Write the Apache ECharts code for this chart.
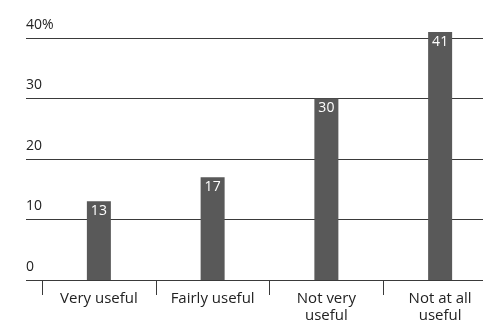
<!DOCTYPE html>
<html>
<head>
<meta charset="utf-8">
<script src="https://cdn.jsdelivr.net/npm/echarts@6/dist/echarts.min.js"></script>
<style>
  html, body { margin: 0; padding: 0; background: #fff; }
  #chart { width: 483px; height: 324px; }
</style>
</head>
<body>
<div id="chart"></div>
<script>
// Survey answers and their shares (%)
const categories = ['Very useful', 'Fairly useful', 'Not very\nuseful', 'Not at all\nuseful'];
const shares = [13, 17, 30, 41];
const yTicks = [0, 10, 20, 30, 40];

const FONT = '"Open Sans", "DejaVu Sans", sans-serif';
const INK = '#222222';
const RULE = '#3a3a3a';

const chart = echarts.init(document.getElementById('chart'));
chart.setOption({
  animation: false,
  backgroundColor: '#ffffff',
  textStyle: { fontFamily: FONT },
  grid: [
    // full-width grid for the horizontal rules and the y labels
    { left: 26, width: 457, top: 38, height: 242, outerBoundsMode: 'none', containLabel: false },
    // grid holding the bars and category ticks (runs past the right edge)
    { left: 42, width: 455, top: 38, height: 242, outerBoundsMode: 'none', containLabel: false }
  ],
  xAxis: [
    { gridIndex: 0, type: 'value', show: false, min: 0, max: 1 },
    {
      gridIndex: 1,
      type: 'category',
      data: categories,
      boundaryGap: true,
      axisLine: { show: false },
      axisTick: { show: true, length: 15, interval: 0, lineStyle: { color: RULE, width: 1 } },
      axisLabel: {
        interval: 0,
        margin: 10,
        color: INK,
        fontSize: 15,
        lineHeight: 17,
        fontFamily: FONT
      }
    }
  ],
  yAxis: [
    {
      gridIndex: 0,
      type: 'value',
      min: yTicks[0],
      max: yTicks[yTicks.length - 1],
      interval: 10,
      axisLine: { show: false },
      axisTick: { show: false },
      splitLine: { show: true, lineStyle: { color: RULE, width: 1 } },
      axisLabel: {
        inside: true,
        align: 'left',
        verticalAlign: 'bottom',
        margin: 0,
        padding: [0, 0, 6, 0],
        color: INK,
        fontSize: 14,
        fontFamily: FONT,
        formatter: v => (v === 40 ? v + '%' : String(v))
      }
    },
    {
      gridIndex: 1,
      type: 'value',
      min: yTicks[0],
      max: yTicks[yTicks.length - 1],
      interval: 10,
      show: false,
      splitLine: { show: false }
    }
  ],
  series: [
    {
      type: 'bar',
      xAxisIndex: 1,
      yAxisIndex: 1,
      data: shares,
      barWidth: 24,
      clip: false,
      itemStyle: { color: '#595959' },
      label: {
        show: true,
        position: 'insideTop',
        distance: 3,
        color: '#ffffff',
        fontSize: 14,
        fontFamily: FONT
      }
    }
  ]
});
</script>
</body>
</html>
